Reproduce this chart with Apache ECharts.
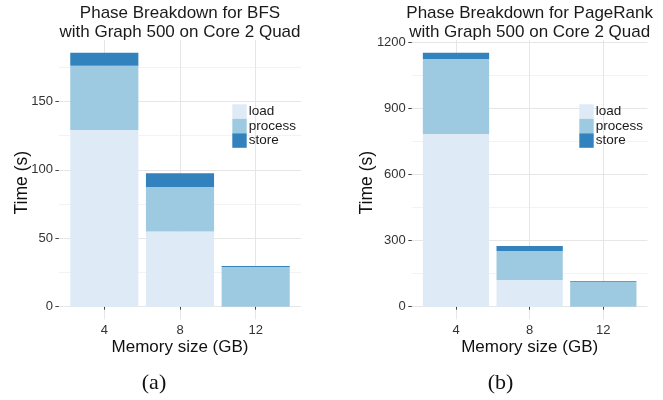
<!DOCTYPE html>
<html><head><meta charset="utf-8">
<script src="https://cdn.jsdelivr.net/npm/echarts@6/dist/echarts.min.js"></script>
<style>html,body{margin:0;padding:0;background:#fff}#c{width:663px;height:400px}</style>
</head><body><div id="c"></div>
<script>
const memorySizes = ['4', '8', '12'];
const phases = ['load', 'process', 'store'];
const bfsLoad = [129, 55, 0];
const bfsProcess = [47, 32.5, 29];
const bfsStore = [9.5, 10, 0.7];
const prLoad = [785, 121, 0];
const prProcess = [341, 132, 113];
const prStore = [28.5, 23, 4];
const bfsTicks = [0, 50, 100, 150];
const bfsMinorTicks = [25, 75, 125, 175];
const prTicks = [0, 300, 600, 900, 1200];
const prMinorTicks = [150, 450, 750, 1050];
const chartTitles = ['Phase Breakdown for BFS\nwith Graph 500 on Core 2 Quad',
                     'Phase Breakdown for PageRank\nwith Graph 500 on Core 2 Quad'];
const captions = ['(a)', '(b)'];
const xTitle = 'Memory size (GB)';
const yTitle = 'Time (s)';

const colors = ['#deebf7', '#9ecae1', '#3182bd'];
const SANS = '"Liberation Sans", Arial, Helvetica, sans-serif';
const SERIF = '"Liberation Serif", "Times New Roman", serif';

const charts = [
  { series: [bfsLoad, bfsProcess, bfsStore], ticks: bfsTicks, minor: bfsMinorTicks,
    grid: { left: 58.9, width: 242.2, top: 40, height: 279.4 }, nameGap: 28,
    legend: { left: 232.3, top: 104.3 }, caption: { left: 154, top: 372 } },
  { series: [prLoad, prProcess, prStore], ticks: prTicks, minor: prMinorTicks,
    grid: { left: 411.8, width: 235.7, top: 40, height: 279.4 }, nameGap: 35.5,
    legend: { left: 579.3, top: 104.3 }, caption: { left: 500.5, top: 372 } }
];

// ggplot-like discrete axis: categories at 1..n, panel spans 0.4 .. n+0.6
const xPos = memorySizes.map((_, i) => i + 1);
const xMin = 0.4, xMax = memorySizes.length + 0.6;

const option = {
  animation: false,
  backgroundColor: '#ffffff',
  title: [], grid: [], xAxis: [], yAxis: [], legend: [], series: []
};

charts.forEach((c, ci) => {
  const totals = memorySizes.map((_, k) => c.series.reduce((s, arr) => s + arr[k], 0));
  const top = Math.max(...totals);
  const yMin = -top * 0.05, yMax = top * 1.05;
  const cx = c.grid.left + c.grid.width / 2;
  const unit = c.grid.width / (xMax - xMin);

  option.title.push({
    text: chartTitles[ci], left: cx, top: 4.5, textAlign: 'center', padding: 0,
    textStyle: { fontFamily: SANS, fontSize: 17, fontWeight: 'normal', lineHeight: 18.5, color: '#1a1a1a' }
  });
  option.title.push({
    text: captions[ci], left: c.caption.left, top: c.caption.top, textAlign: 'center', padding: 0,
    textStyle: { fontFamily: SERIF, fontSize: 22, fontWeight: 'normal', color: '#111' }
  });

  // outer panel grid: gridlines, ticks, labels, titles
  option.grid.push(Object.assign({}, c.grid));
  // inner grid for the bars: category bands centred on 1..n
  option.grid.push({ left: c.grid.left + (0.5 - xMin) * unit, width: memorySizes.length * unit,
                     top: c.grid.top, height: c.grid.height });
  const gOuter = ci * 2, gInner = ci * 2 + 1;

  option.xAxis.push({
    type: 'value', gridIndex: gOuter, min: xMin, max: xMax,
    axisLine: { show: false },
    axisTick: { show: true, length: 3, customValues: xPos, lineStyle: { color: '#444', width: 1 } },
    axisLabel: { customValues: xPos, margin: 5, fontFamily: SANS, fontSize: 13, color: '#333',
                 formatter: v => memorySizes[Math.round(v) - 1] },
    splitLine: { show: true, lineStyle: { color: '#e6e6e6', width: 1 } },
    name: xTitle, nameLocation: 'middle', nameGap: 19, nameMoveOverlap: false,
    nameTextStyle: { fontFamily: SANS, fontSize: 17, color: '#111' }
  });
  option.xAxis.push({ type: 'category', gridIndex: gInner, data: memorySizes, show: false });

  option.yAxis.push({
    type: 'value', gridIndex: gOuter, min: yMin, max: yMax,
    axisLine: { show: false },
    axisTick: { show: true, length: 3.5, customValues: c.ticks, lineStyle: { color: '#444', width: 1 } },
    axisLabel: { customValues: c.ticks, margin: 6, fontFamily: SANS, fontSize: 13, color: '#333',
                 formatter: v => String(Math.round(v)) },
    splitLine: { show: true, lineStyle: { color: '#e6e6e6', width: 1 } },
    name: yTitle, nameLocation: 'middle', nameGap: c.nameGap, nameMoveOverlap: false,
    nameTextStyle: { fontFamily: SANS, fontSize: 17.5, color: '#111', padding: [0, 6, 0, 0] }
  });
  option.yAxis.push({
    type: 'value', gridIndex: gOuter, min: yMin, max: yMax, position: 'left',
    axisLine: { show: false },
    axisTick: { show: false, customValues: c.minor },
    axisLabel: { show: false, customValues: c.minor },
    splitLine: { show: true, lineStyle: { color: '#f3f3f3', width: 1 } }
  });
  const yInner = option.yAxis.length;
  option.yAxis.push({ type: 'value', gridIndex: gInner, min: yMin, max: yMax, show: false,
                      splitLine: { show: false } });
  const xInner = option.xAxis.length - 1;

  option.legend.push({
    data: phases, orient: 'vertical', left: c.legend.left, top: c.legend.top, padding: 0,
    itemGap: 0, itemWidth: 14.4, itemHeight: 14.5, icon: 'rect', selectedMode: false,
    textStyle: { fontFamily: SANS, fontSize: 13.5, lineHeight: 14.5, color: '#1a1a1a', padding: [0, 0, 0, -3] }
  });

  c.series.forEach((arr, si) => {
    option.series.push({
      type: 'bar', name: phases[si], xAxisIndex: xInner, yAxisIndex: yInner, stack: 'stack' + ci,
      barWidth: '90%', itemStyle: { color: colors[si] }, emphasis: { disabled: true },
      data: arr
    });
  });
});

const chart = echarts.init(document.getElementById('c'), null, { renderer: 'canvas' });
chart.setOption(option);
</script>
</body></html>
